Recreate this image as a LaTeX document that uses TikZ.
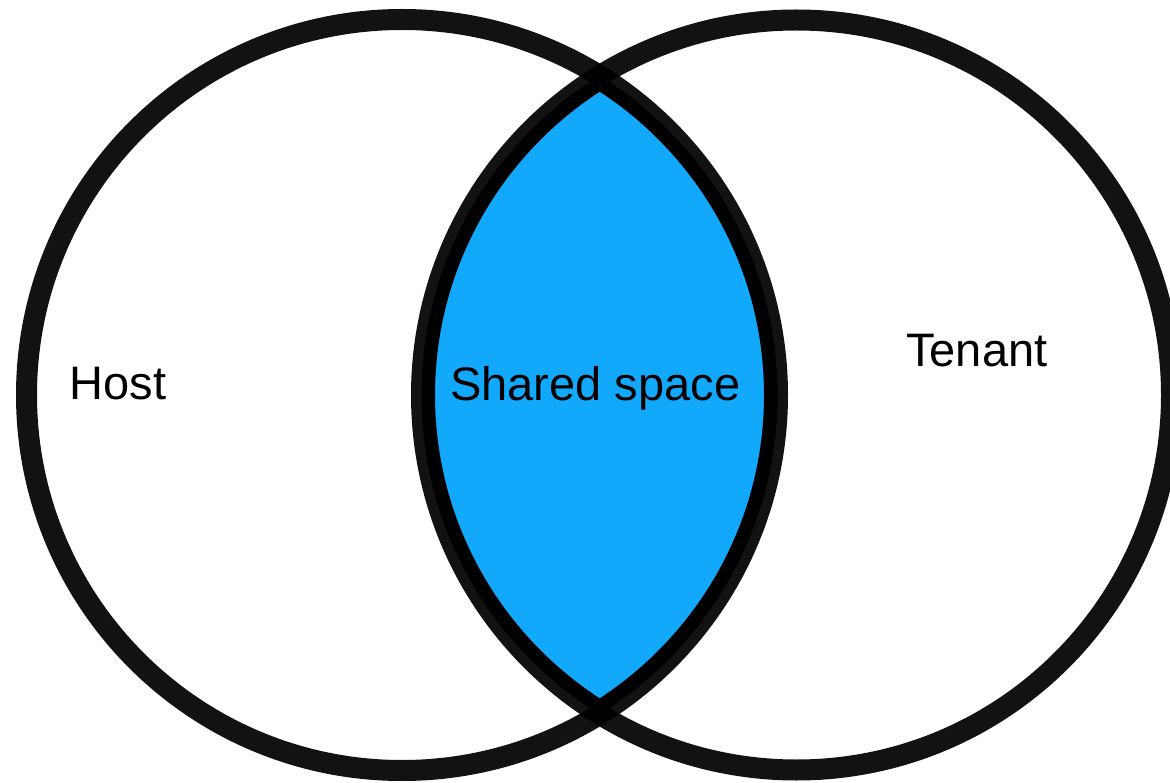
\documentclass[tikz,border=0pt]{standalone}
\usepackage{fontspec}
\setmainfont{Liberation Sans}
\definecolor{lensblue}{RGB}{18,169,253}
\definecolor{ringblack}{RGB}{0,0,0}
\begin{document}
\begin{tikzpicture}[x=1pt,y=-1pt,
  ring/.style={draw=ringblack, draw opacity=0.93, line width=21pt},
  label/.style={inner sep=0pt, anchor=base west, font=\fontsize{47}{56}\selectfont, text=black}]
\useasboundingbox (0,0) rectangle (1170,783);
\clip (0,0) rectangle (1170,783);
\fill[white] (0,0) rectangle (1170,783);
\coordinate (hc) at (402,395);
\coordinate (tc) at (796.5,395);
% shared lens
\begin{scope}
  \clip (hc) circle (375.5);
  \clip (tc) circle (375);
  \fill[lensblue] (hc) circle (375.5);
  \draw[black, line width=27pt] (hc) circle (375.5);
  \draw[black, line width=27pt] (tc) circle (375);
\end{scope}
% rings
\draw[ring] (hc) circle (375.5);
\draw[ring] (tc) circle (375);
% labels
\node[label] (host) at (69.5,399.5) {Host};
\node[label] (shared) at (450,400) {Shared space};
\node[label] (tenant) at (906,366.5) {Tenant};
\end{tikzpicture}
\end{document}
